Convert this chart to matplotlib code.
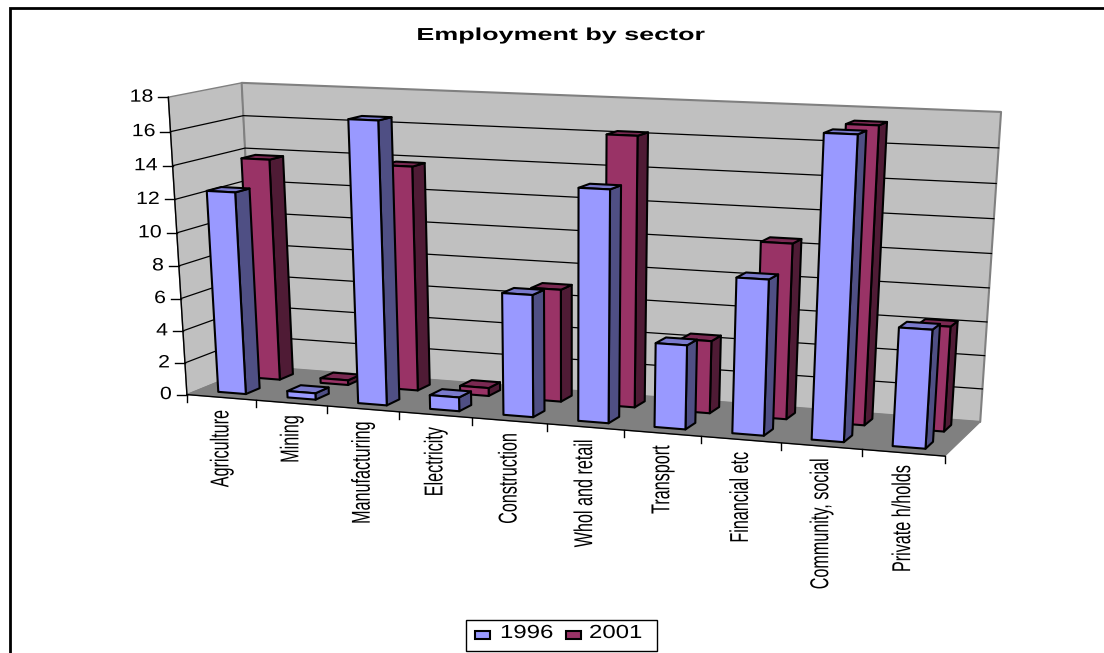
import numpy as np
import matplotlib
matplotlib.use('Agg')
import matplotlib.pyplot as plt
from matplotlib.patches import Polygon, Rectangle
from matplotlib.patheffects import AbstractPathEffect
from matplotlib.transforms import Affine2D

W, H = 1104, 653

sectors = ['Agriculture', 'Mining', 'Manufacturing', 'Electricity', 'Construction',
           'Whol and retail', 'Transport', 'Financial etc', 'Community, social', 'Private h/holds']
emp_1996 = [12.4, 0.4, 17.0, 0.85, 7.35, 13.7, 5.0, 9.1, 17.35, 6.85]
emp_2001 = [13.8, 0.3, 13.8, 0.5, 6.9, 16.2, 4.4, 10.45, 17.35, 6.2]
yticks = list(range(0, 20, 2))
ymax = 18.0

# where the corners of the plot box land on the canvas: (x, depth, height) -> pixels
box_model = [(0, 0, 0), (1, 0, 0), (0, 1, 0), (1, 1, 0), (0, 1, 1), (1, 1, 1), (0, 0, 1)]
box_px = [(187, 393), (945, 457), (256, 368), (980, 421), (242, 82), (1001, 112), (168, 98)]


def fit_camera(model, px):
    rows, rhs = [], []
    for (x, d, z), (u, v) in zip(model, px):
        rows.append([x, d, z, 1, 0, 0, 0, 0, -u * x, -u * d, -u * z])
        rows.append([0, 0, 0, 0, x, d, z, 1, -v * x, -v * d, -v * z])
        rhs += [u, v]
    p = np.linalg.lstsq(np.array(rows, float), np.array(rhs, float), rcond=None)[0]
    return np.append(p, 1.0).reshape(3, 4)


cam = fit_camera(box_model, box_px)


def proj(cat, depth, val):
    q = cam @ np.array([cat / len(sectors), depth, val / ymax, 1.0])
    return q[0] / q[2], q[1] / q[2]


class Stretch(AbstractPathEffect):
    # scales glyph outlines about a fixed canvas point, the text stays a normal Text
    def __init__(self, x, y, sx, sy):
        super().__init__()
        self.tr = Affine2D().translate(-x, -(H - y)).scale(sx, sy).translate(x, H - y)

    def draw_path(self, renderer, gc, tpath, affine, rgbFace=None):
        renderer.draw_path(gc, tpath, affine + self.tr, rgbFace)


plt.rcParams['font.family'] = ['Liberation Sans', 'DejaVu Sans']
fig = plt.figure(figsize=(W / 100, H / 100), dpi=100)
ax = fig.add_axes([0, 0, 1, 1])
ax.set_xlim(0, W)
ax.set_ylim(H, 0)
ax.axis('off')


def label(x, y, s, sx, sy=1.0, **kw):
    t = ax.text(x, y, s, color='black', zorder=8, **kw)
    t.set_path_effects([Stretch(x, y, sx, sy)])
    return t


# chart frame, open on the right
ax.plot([9.5, 9.5, W + 2], [H + 2, 8, 8], color='black', lw=2, solid_joinstyle='miter')

n = len(sectors)


def poly(pts, face, edge='black', lw=1.5, z=1):
    ax.add_patch(Polygon(pts, closed=True, facecolor=face, edgecolor=edge, lw=lw, zorder=z,
                         joinstyle='round'))


# walls and floor
poly([proj(0, 0, 0), proj(0, 1, 0), proj(0, 1, ymax), proj(0, 0, ymax)], '#C0C0C0', '#808080', 1.0)
poly([proj(0, 1, 0), proj(n, 1, 0), proj(n, 1, ymax), proj(0, 1, ymax)], '#C0C0C0', '#808080', 1.5)
poly([proj(0, 0, 0), proj(n, 0, 0), proj(n, 1, 0), proj(0, 1, 0)], '#808080', '#808080', 0.8)

for t in yticks[1:-1]:
    a, b, c = proj(0, 0, t), proj(0, 1, t), proj(n, 1, t)
    ax.plot([a[0], b[0], c[0]], [a[1], b[1], c[1]], color='black', lw=0.9, zorder=2)

# axis lines, ticks and labels
a, b = proj(0, 0, 0), proj(0, 0, ymax)
ax.plot([a[0], b[0]], [a[1], b[1]], color='black', lw=1.0, zorder=3)
a, b = proj(0, 0, 0), proj(n, 0, 0)
ax.plot([a[0], b[0]], [a[1], b[1]], color='black', lw=1.0, zorder=3)
for t in yticks:
    u, v = proj(0, 0, t)
    ax.plot([u - 10, u], [v, v], color='black', lw=1.0, zorder=3)
    label(u - 15, v, str(t), 1.2, ha='right', va='center', fontsize=12.8)
for i in range(n + 1):
    u, v = proj(i, 0, 0)
    ax.plot([u, u], [v, v + 7], color='black', lw=1.0, zorder=3)
for i, name in enumerate(sectors):
    u, v = proj(i + 0.5, 0, 0)
    label(u, v + 12, name, 1.55, 0.97, rotation=90, ha='center', va='top', fontsize=12)


def bar(i, d0, d1, val, front, side, top, z):
    x0, x1 = i + 0.3, i + 0.7
    poly([proj(x1, d0, 0), proj(x1, d1, 0), proj(x1, d1, val), proj(x1, d0, val)], side, z=z)
    poly([proj(x0, d0, val), proj(x1, d0, val), proj(x1, d1, val), proj(x0, d1, val)], top, z=z)
    poly([proj(x0, d0, 0), proj(x1, d0, 0), proj(x1, d0, val), proj(x0, d0, val)], front, z=z)


for i in range(n):
    bar(i, 0.65, 0.85, emp_2001[i], '#993366', '#4F1B35', '#7A2952', 4)
for i in range(n):
    bar(i, 0.15, 0.35, emp_1996[i], '#9999FF', '#4F4F84', '#7A7ACC', 5)

label(561, 35.5, 'Employment by sector', 1.55, ha='center', va='center', fontsize=12.5, weight='bold')

# legend
ax.add_patch(Rectangle((466, 619.5), 191, 31.5, facecolor='white', edgecolor='black', lw=1.0, zorder=6))
ax.add_patch(Rectangle((475, 630.5), 14.5, 8.5, facecolor='#9999FF', edgecolor='black', lw=1.5, zorder=7))
label(500, 633.5, '1996', 1.27, ha='left', va='center', fontsize=13.6)
ax.add_patch(Rectangle((566, 630.5), 14.5, 8.5, facecolor='#993366', edgecolor='black', lw=1.5, zorder=7))
label(589, 633.5, '2001', 1.27, ha='left', va='center', fontsize=13.6)

fig.savefig('out.png', dpi=100)
